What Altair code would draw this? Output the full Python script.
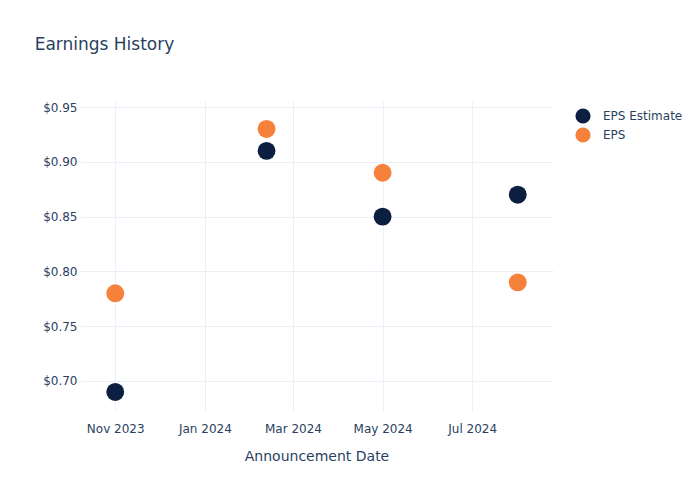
import altair as alt
import pandas as pd

dates = ["2023-11-01T00:00:00", "2024-02-12T00:00:00", "2024-05-01T00:00:00", "2024-08-01T00:00:00"]
eps_estimate = [0.69, 0.91, 0.85, 0.87]
eps_actual = [0.78, 0.93, 0.89, 0.79]
series_names = ["EPS Estimate", "EPS"]
series_colors = ["#0c1f40", "#f6813a"]
y_ticks = [0.70, 0.75, 0.80, 0.85, 0.90, 0.95]

rows = []
for d, v in zip(dates, eps_estimate):
    rows.append({"date": d, "value": v, "series": "EPS Estimate"})
for d, v in zip(dates, eps_actual):
    rows.append({"date": d, "value": v, "series": "EPS"})
df = pd.DataFrame(rows)

text_color = "#2a3f5f"
grid_color = "#ebf0f8"
font = "DejaVu Sans"

x_ticks = [
    alt.DateTime(year=2023, month=11, date=1),
    alt.DateTime(year=2024, month=1, date=1),
    alt.DateTime(year=2024, month=3, date=1),
    alt.DateTime(year=2024, month=5, date=1),
    alt.DateTime(year=2024, month=7, date=1),
]

chart = (
    alt.Chart(df)
    .mark_circle(size=320, opacity=1)
    .encode(
        x=alt.X(
            "date:T",
            title="Announcement Date",
            scale=alt.Scale(
                domain=[alt.DateTime(year=2023, month=10, date=8), alt.DateTime(year=2024, month=8, date=25)]
            ),
            axis=alt.Axis(values=x_ticks, format="%b %Y", labelPadding=12, titlePadding=15),
        ),
        y=alt.Y(
            "value:Q",
            title=None,
            scale=alt.Scale(domain=[0.6726, 0.9555], nice=False, zero=False),
            axis=alt.Axis(values=y_ticks, format="$.2f", labelPadding=3),
        ),
        color=alt.Color(
            "series:N",
            scale=alt.Scale(domain=series_names, range=series_colors),
            legend=alt.Legend(
                title=None,
                orient="none",
                legendX=495,
                legendY=7,
                symbolType="circle",
                symbolSize=230,
                symbolStrokeWidth=0,
                labelFontSize=12,
                labelColor=text_color,
                labelFont=font,
                rowPadding=3,
                labelOffset=12,
            ),
        ),
    )
    .properties(
        width=473,
        height=310,
        padding={"left": 80, "top": 101, "right": 147, "bottom": 89},
        autosize=alt.AutoSizeParams(type="none"),
        background="white",
        title=alt.TitleParams(
            "Earnings History",
            anchor="start",
            dx=-8,
            offset=47,
            fontSize=17,
            fontWeight="normal",
            color=text_color,
            font=font,
        ),
    )
    .configure_view(stroke=None)
    .configure_axis(
        grid=True,
        gridColor=grid_color,
        gridWidth=1,
        domain=False,
        ticks=False,
        labelColor=text_color,
        labelFontSize=12,
        labelFont=font,
        titleColor=text_color,
        titleFontSize=14,
        titleFontWeight="normal",
        titleFont=font,
    )
)

chart.save("out.html", embed_options={"renderer": "svg", "actions": False})
